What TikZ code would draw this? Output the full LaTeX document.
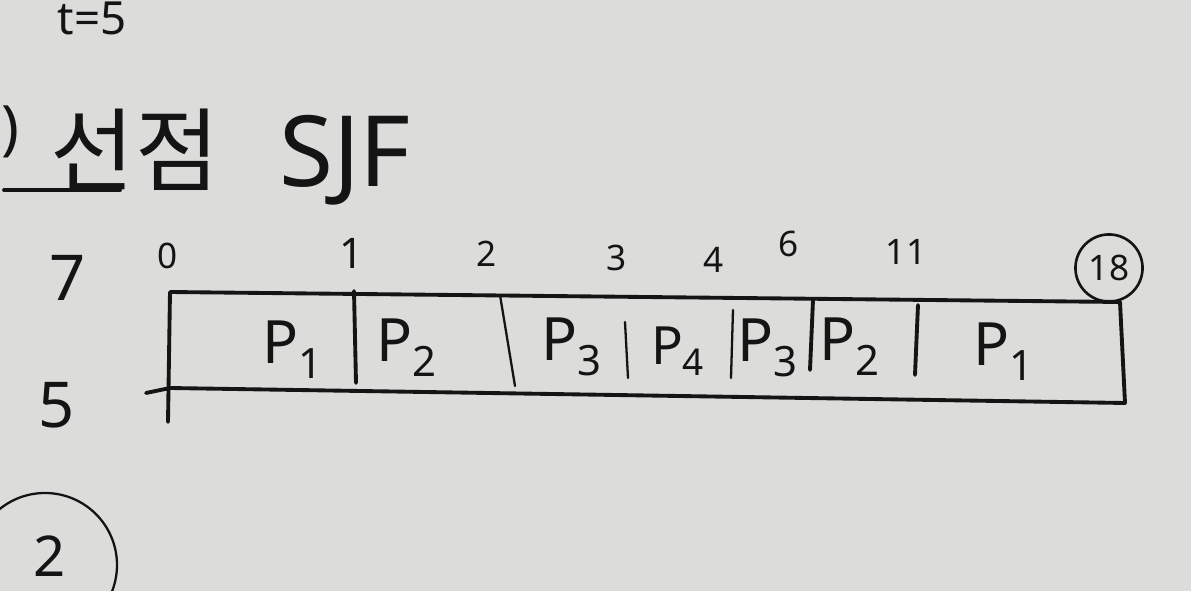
\documentclass[tikz,border=0pt]{standalone}
\usepackage{fontspec}
\setmainfont{Noto Sans}
\newfontfamily\kofont{Noto Sans CJK KR}
\definecolor{paper}{HTML}{DCDCDA}
\definecolor{ink}{HTML}{141414}
\begin{document}
\begin{tikzpicture}[x=0.02cm,y=-0.02cm,
  ink/.style={draw=ink,line width=2.2pt,line cap=round,line join=round},
  thin ink/.style={draw=ink,line width=1.3pt,line cap=round},
  tlabel/.style={text=ink,font=\fontsize{20}{22}\selectfont,inner sep=0pt},
  plabel/.style={text=ink,font=\fontsize{34}{36}\selectfont,inner sep=0pt},
  side/.style={text=ink,font=\fontsize{36}{38}\selectfont,inner sep=0pt}]
\fill[paper] (0,0) rectangle (1191,591);
\useasboundingbox (0,0) rectangle (1191,591);
% header
\node[tlabel,font=\fontsize{26}{28}\selectfont] (tval) at (92,18) {t=5};
\node[side,font=\fontsize{34}{36}\selectfont] (paren) at (10,132) {)};
\node[text=ink,font=\kofont\fontsize{52}{54}\selectfont,inner sep=0pt] (kor) at (135,150) {선점};
\node[text=ink,font=\fontsize{56}{58}\selectfont,inner sep=0pt] (sjf) at (345,160) {SJF};
\coordinate (ul1) at (4,190);
\coordinate (ul2) at (120,190);
\draw[ink] (ul1) -- (ul2);
% side numbers
\node[side] (seven) at (68,278) {7};
\node[side] (five) at (57,405) {5};
% time labels
\node[tlabel] (t0) at (168,256) {0};
\node[tlabel,font=\fontsize{24}{26}\selectfont] (t1) at (352,253) {1};
\node[tlabel] (t2) at (487,254) {2};
\node[tlabel] (t3) at (617,258) {3};
\node[tlabel] (t4) at (714,260) {4};
\node[tlabel] (t6) at (789,244) {6};
\node[tlabel] (t11) at (906,252) {11};
\node[tlabel,draw=ink,line width=1.5pt,circle,inner sep=4pt] (t18) at (1109,268) {18};
% chart box
\coordinate (tl) at (170,292);
\coordinate (tr) at (1120,302);
\coordinate (br) at (1125,403);
\coordinate (bl) at (170,388);
\coordinate (lb) at (168,422);
\coordinate (tick) at (146,393);
\draw[ink] (lb) -- (tl) -- (tr) -- (br) -- (bl) -- (tick);
% dividers
\coordinate (d1t) at (354,291); \coordinate (d1b) at (356,383);
\coordinate (d2t) at (500,295); \coordinate (d2b) at (515,386);
\coordinate (d3t) at (625,322); \coordinate (d3b) at (628,378);
\coordinate (d4t) at (733,310); \coordinate (d4b) at (731,378);
\coordinate (d5t) at (813,300); \coordinate (d5b) at (810,370);
\coordinate (d6t) at (918,305); \coordinate (d6b) at (915,375);
\draw[ink] (d1t) -- (d1b);
\draw[thin ink] (d2t) -- (d2b);
\draw[thin ink] (d3t) -- (d3b);
\draw[thin ink] (d4t) -- (d4b);
\draw[ink] (d5t) -- (d5b);
\draw[ink] (d6t) -- (d6b);
% process labels
\node[plabel] (c1) at (293,350) {P\textsubscript{1}};
\node[plabel] (c2) at (407,348) {P\textsubscript{2}};
\node[plabel] (c3) at (572,347) {P\textsubscript{3}};
\node[plabel,font=\fontsize{30}{32}\selectfont] (c4) at (678,351) {P\textsubscript{4}};
\node[plabel] (c5) at (768,348) {P\textsubscript{3}};
\node[plabel] (c6) at (850,347) {P\textsubscript{2}};
\node[plabel] (c7) at (1004,352) {P\textsubscript{1}};
% bottom circled 2
\draw[thin ink] (45,565) circle (72);
\node[side,font=\fontsize{32}{34}\selectfont] (two) at (50,556) {2};
\end{tikzpicture}
\end{document}
